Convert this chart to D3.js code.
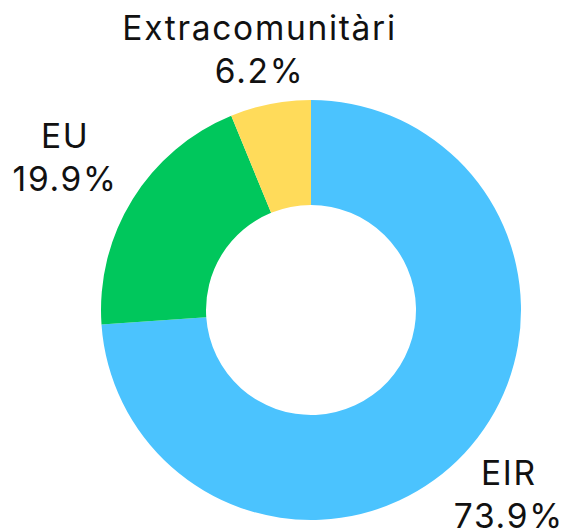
<!DOCTYPE html>
<html>
<head>
<meta charset="utf-8">
<script src="https://cdn.jsdelivr.net/npm/d3@7"></script>
<style>
  html, body { margin: 0; padding: 0; background: #fff; }
  text { font-family: Inter, Roboto, "Noto Sans", sans-serif; fill: #111; letter-spacing: 1.7px; }
</style>
</head>
<body>
<svg id="chart" width="564" height="530"></svg>
<script>
'use strict'

// slice data, in drawing order (clockwise from 12 o'clock)
var categories = ["EIR", "EU", "Extracomunitàri"]
var values     = [73.9, 19.9, 6.2]
var colors     = ["#4bc3fe", "#00c75c", "#ffdb5a"]

var svg = d3.select("#chart"),
    cx = 311, cy = 310,
    outerR = 210, innerR = 105;

var fontSize = 33.5, lineH = 43, capH = fontSize * 0.727, gap = 17

var data = categories.map((c, i) => ({name: c, value: values[i], color: colors[i]}))

var pie = d3.pie().sort(null).value(d => d.value)
var arc = d3.arc().innerRadius(innerR).outerRadius(outerR)

var g = svg.append("g")
    .attr("transform", "translate(" + cx + "," + cy + ")")

var arcs = pie(data)

g.selectAll("path")
  .data(arcs)
  .enter()
    .append("path")
    .attr("d", arc)
    .attr("fill", d => d.data.color)

// distance from origin to an axis aligned box
function boxDist(x0, y0, x1, y1){
  let dx = Math.max(x0, 0, -x1)
  let dy = Math.max(y0, 0, -y1)
  return Math.sqrt(dx * dx + dy * dy)
}

var labels = g.selectAll("g.label")
  .data(arcs)
  .enter()
    .append("g")
    .attr("class", "label")

// two lines, block centred on its ink box
var b1 = -(lineH + capH) / 2 + capH, b2 = b1 + lineH
labels.append("text")
  .attr("text-anchor", "middle")
  .attr("font-size", fontSize)
  .attr("y", b1)
  .text(d => d.data.name)
labels.append("text")
  .attr("text-anchor", "middle")
  .attr("font-size", fontSize)
  .attr("y", b2)
  .text(d => d.data.value.toFixed(1) + "%")

labels.each(function(d){
  let node = d3.select(this)
  let ts = node.selectAll("text").nodes()
  let w1 = ts[0].getComputedTextLength(), w2 = ts[1].getComputedTextLength()
  let a = (d.startAngle + d.endAngle) / 2
  let ux = Math.sin(a), uy = -Math.cos(a)
  // push the label out along the mid angle until it clears the ring
  let t = outerR
  while (t < outerR + 300){
    let x = ux * t, y = uy * t
    let dmin = Math.min(
      boxDist(x - w1 / 2, y + b1 - capH, x + w1 / 2, y + b1),
      boxDist(x - w2 / 2, y + b2 - capH, x + w2 / 2, y + b2))
    if (dmin >= outerR + gap) break
    t += 0.5
  }
  node.attr("transform", "translate(" + (ux * t) + "," + (uy * t) + ")")
})
</script>
</body>
</html>
